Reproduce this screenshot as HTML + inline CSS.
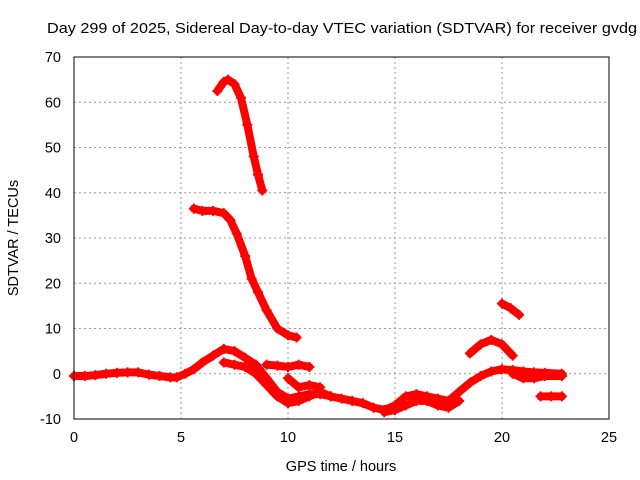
<!DOCTYPE html>
<html><head><meta charset="utf-8"><style>
body{margin:0;background:#fff}
svg{display:block;font-family:"Liberation Sans",sans-serif}
</style></head><body>
<svg id="c" width="640" height="480">
<text x="47" y="33" font-size="15" textLength="590" lengthAdjust="spacingAndGlyphs">Day 299 of 2025, Sidereal Day-to-day VTEC variation (SDTVAR) for receiver gvdg</text>
<text x="341" y="471" font-size="14.5" text-anchor="middle">GPS time / hours</text>
<text transform="translate(18,238) rotate(-90)" font-size="14.5" text-anchor="middle">SDTVAR / TECUs</text>
<g id="grid"></g>
<g id="ticks"></g>
<g id="series"></g>
<rect x="74" y="57" width="535" height="362" fill="none" stroke="#000"/>
</svg>
<script>
const xTicks=[0,5,10,15,20,25];
const yTicks=[-10,0,10,20,30,40,50,60,70];
const s1t=[0,0.5,1,1.5,2,2.5,3,3.5,4,4.5,4.8,5.2,5.6,6,6.5,7,7.5,8,8.5,9,9.5,10,10.5,11,11.5,12,12.5,13,13.5,14,14.5,15,15.5,16,16.5,17,17.5,18,18.5,19,19.5,20,20.5,21,21.5,22,22.8];
const s1v=[-0.5,-0.5,-0.3,0,0.2,0.3,0.3,-0.2,-0.5,-0.8,-0.8,0,1,2.5,4,5.5,5,3.5,2,-1,-4,-5.5,-5,-4.5,-4.5,-5,-5.5,-6,-6.5,-7.5,-8,-7,-5,-4.5,-5,-5.5,-6,-4,-2,-0.5,0.5,1,0.8,0.5,0.3,0.2,0];
const s2t=[7,7.5,8,8.5,9,9.5,10,10.5,11,11.5,12];
const s2v=[2.5,2,1.5,0,-2.5,-5,-6.5,-6,-5,-4,-5];
const s3t=[14.5,15,15.5,16,16.5,17,17.5,18];
const s3v=[-8.5,-8,-7,-6,-6,-7,-7.5,-6];
const s4t=[6.7,7,7.2,7.5,7.8,8.1,8.4,8.6,8.8];
const s4v=[62.5,64.5,65,64,61,55,48,44,40.5];
const s5t=[5.6,6,6.5,7,7.3,7.6,8,8.3,8.6,9,9.5,10,10.4];
const s5v=[36.5,36,36,35.5,34,31,26,21,18,14,10,8.5,8];
const s6t=[9,9.5,10,10.5,11];
const s6v=[2,1.8,1.5,2,1.5];
const s7t=[10,10.5,11,11.5];
const s7v=[-1,-3,-2.5,-3];
const s8t=[18.5,19,19.5,20,20.5];
const s8v=[4.5,6.5,7.5,6.5,4];
const s9t=[20,20.4,20.8];
const s9v=[15.5,14.5,13];
const s10t=[20.5,21,21.5,22,22.8];
const s10v=[0,-1,-1,-0.5,-0.5];
const s11t=[21.8,22.3,22.8];
const s11v=[-5,-5,-5];
const series=[[s1t,s1v],[s2t,s2v],[s3t,s3v],[s4t,s4v],[s5t,s5v],[s6t,s6v],[s7t,s7v],[s8t,s8v],[s9t,s9v],[s10t,s10v],[s11t,s11v]];
const X=t=>74+t*535/25, Y=v=>419-(v+10)*362/80;
const NS='http://www.w3.org/2000/svg';
const grid=document.getElementById('grid'),ticks=document.getElementById('ticks'),sg=document.getElementById('series');
function mk(tag,at,p){const e=document.createElementNS(NS,tag);for(const k in at)e.setAttribute(k,at[k]);p.appendChild(e);return e;}
xTicks.forEach(t=>{
 if(t>0&&t<25){const g=mk('line',{x1:X(t),x2:X(t),y1:57,y2:419,stroke:'#999','stroke-dasharray':'2,3'},grid);
 
 }
 const l=mk('text',{x:X(t),y:442,'font-size':14.5,'text-anchor':'middle'},ticks);l.textContent=t;
 
 
});
yTicks.forEach(v=>{
 if(v>-10&&v<70){const g=mk('line',{x1:74,x2:609,y1:Y(v),y2:Y(v),stroke:'#999','stroke-dasharray':'2,3'},grid);
 
 }
 const l=mk('text',{x:61,y:Y(v)+5,'font-size':14.5,'text-anchor':'end'},ticks);l.textContent=v;
 
 
});
series.forEach(([ts,vs],i)=>{
 const pts=ts.map((t,j)=>X(t)+','+Y(vs[j])).join(' ');
 const pl=mk('polyline',{points:pts,fill:'none',stroke:'#f00','stroke-width':8,'stroke-linejoin':'round','stroke-linecap':'round'},sg);
 
 
 ts.forEach((t,j)=>{const x=X(t),y=Y(vs[j]);
  const m=mk('path',{d:`M${x-5},${y}H${x+5}M${x},${y-5}V${y+5}`,stroke:'#f00','stroke-width':2},sg);
  
  
 });
});
</script>
</body></html>
